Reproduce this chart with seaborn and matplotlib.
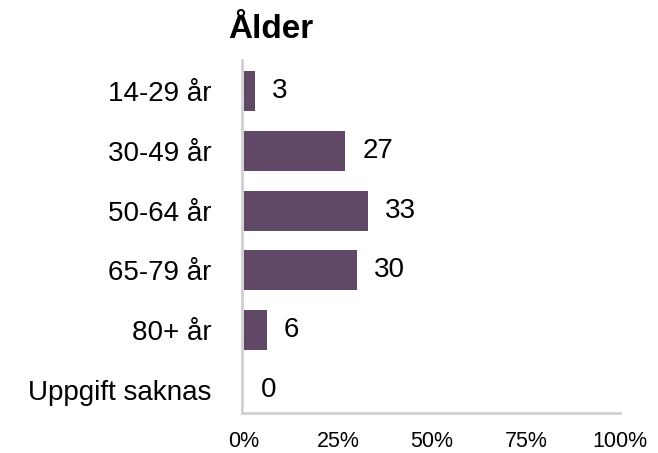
import matplotlib
matplotlib.use("Agg")
import matplotlib.pyplot as plt
import seaborn as sns
import pandas as pd
from matplotlib.ticker import PercentFormatter

# values
categories = ["14-29 år", "30-49 år", "50-64 år", "65-79 år", "80+ år", "Uppgift saknas"]
values = [3, 27, 33, 30, 6, 0]
title = "Ålder"
bar_color = "#614866"

df = pd.DataFrame({"kategori": categories, "andel": values})

sns.set_theme(style="white")
plt.rcParams["font.family"] = ["Liberation Sans", "DejaVu Sans"]

fig = plt.figure(figsize=(6.58, 4.53), dpi=100)
ax = fig.add_axes([0.368, 0.088, 0.574, 0.78])

sns.barplot(data=df, x="andel", y="kategori", color=bar_color, width=0.67,
            saturation=1, linewidth=0, ax=ax)

for i, v in enumerate(values):
    ax.text(v + 4.5, i, str(v), va="center", ha="left", fontsize=20, color="black")

ax.set_xlim(-0.5, 100)
ax.set_ylim(5.385, -0.52)
ax.set_xticks([0, 25, 50, 75, 100])
ax.xaxis.set_major_formatter(PercentFormatter(decimals=0))
ax.tick_params(axis="x", labelsize=15.5, length=0, pad=13, colors="black")
ax.tick_params(axis="y", labelsize=20, length=0, pad=22, colors="black")
ax.set_xlabel("")
ax.set_ylabel("")

for s in ["top", "right"]:
    ax.spines[s].set_visible(False)
for s in ["left", "bottom"]:
    ax.spines[s].set_color("#d0d0d0")
    ax.spines[s].set_linewidth(2)

fig.text(0.347, 0.935, title, fontsize=24, fontweight="bold", ha="left",
         va="center", color="black")

fig.savefig("out.png", dpi=100)
